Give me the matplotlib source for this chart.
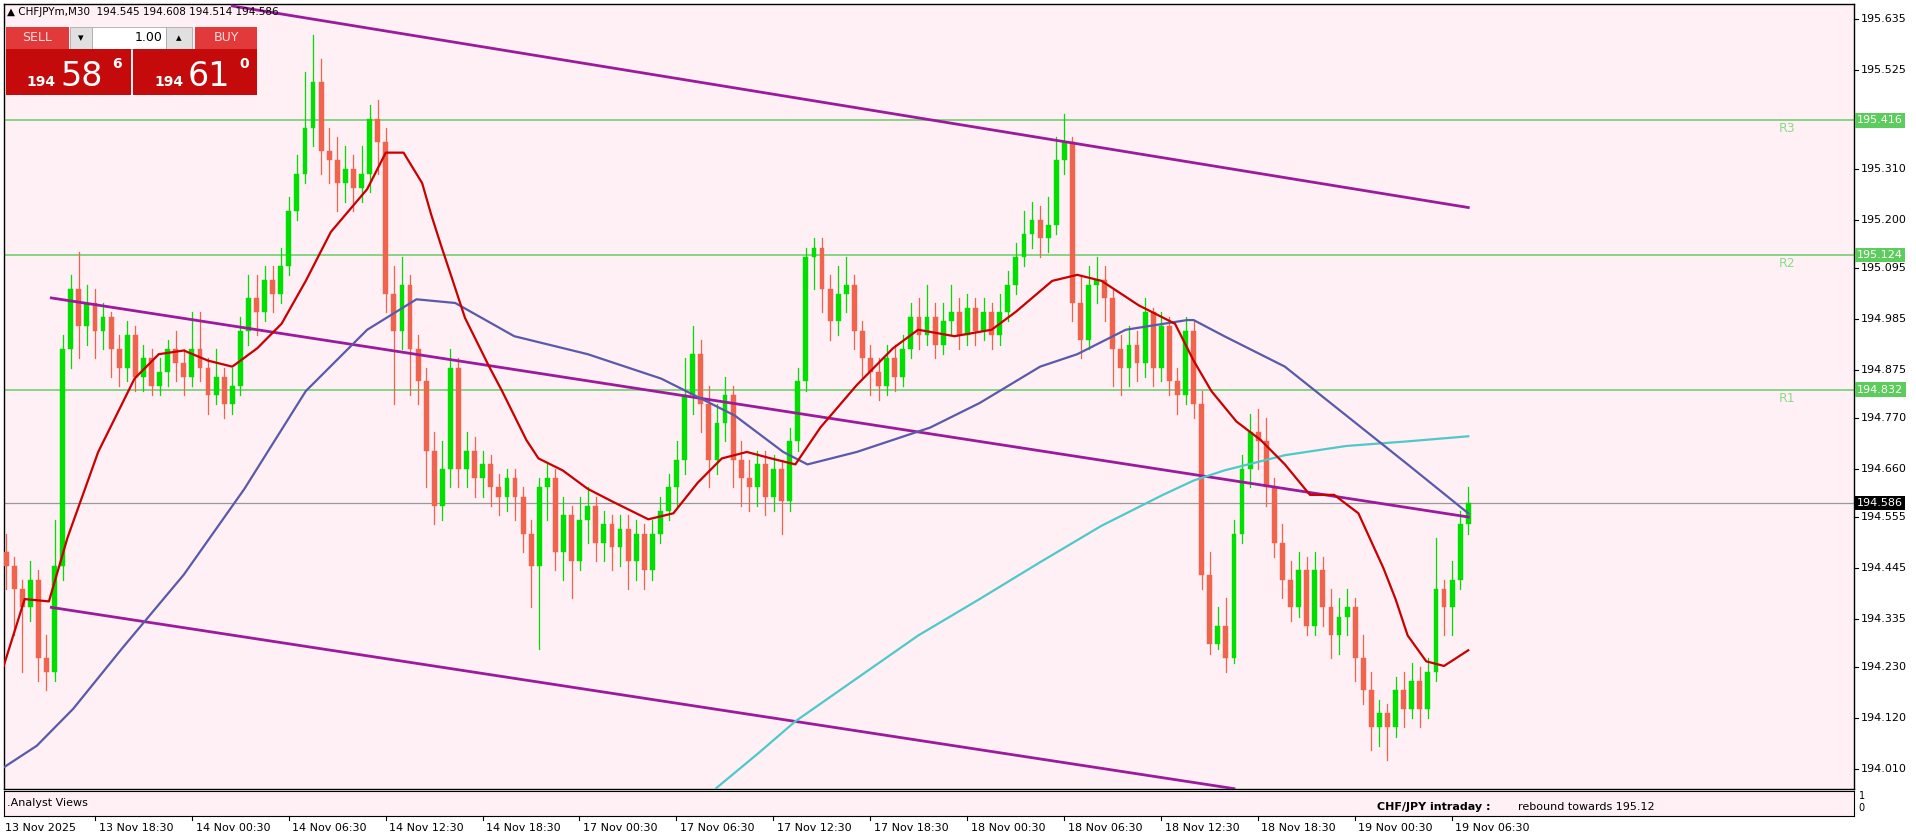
import matplotlib
matplotlib.use("Agg")
import matplotlib.pyplot as plt
from matplotlib.patches import Rectangle
import numpy as np

first_open = 194.48
closes = [194.45,194.40,194.36,194.42,194.25,194.22,194.45,194.92,195.05,194.97,
195.02,194.96,194.99,194.92,194.88,194.95,194.86,194.90,194.84,194.87,
194.92,194.89,194.86,194.92,194.88,194.82,194.86,194.80,194.84,194.96,
195.03,195.00,195.07,195.04,195.10,195.22,195.30,195.40,195.50,195.35,
195.33,195.28,195.31,195.27,195.30,195.42,195.37,195.04,194.96,195.06,
194.92,194.85,194.70,194.58,194.66,194.88,194.66,194.70,194.64,194.67,
194.62,194.60,194.64,194.60,194.52,194.45,194.62,194.64,194.48,194.56,
194.46,194.55,194.58,194.50,194.54,194.49,194.53,194.46,194.52,194.44,
194.52,194.57,194.62,194.68,194.82,194.91,194.80,194.68,194.76,194.82,
194.68,194.64,194.62,194.67,194.60,194.66,194.59,194.72,194.85,195.12,
195.14,195.05,194.98,195.04,195.06,194.96,194.90,194.87,194.84,194.90,
194.86,194.92,194.99,194.95,194.99,194.93,194.98,195.00,194.95,195.01,
194.96,195.00,194.95,195.00,195.06,195.12,195.17,195.20,195.16,195.19,
195.33,195.37,195.02,194.94,195.06,195.07,195.03,194.92,194.88,194.93,
194.89,195.00,194.88,194.97,194.85,194.82,194.96,194.80,194.43,194.28,
194.32,194.25,194.52,194.66,194.74,194.72,194.62,194.50,194.42,194.36,
194.44,194.32,194.44,194.36,194.30,194.34,194.36,194.25,194.18,194.10,
194.13,194.10,194.18,194.14,194.20,194.14,194.22,194.40,194.36,194.42,
194.54,194.586]
highs = [194.52,194.47,194.42,194.46,194.44,194.30,194.55,194.95,195.08,195.13,
195.06,195.05,195.02,195.00,194.95,194.98,194.97,194.93,194.92,194.90,
194.94,194.96,194.92,195.00,195.00,194.90,194.92,194.88,194.88,194.99,
195.08,195.08,195.10,195.10,195.14,195.25,195.34,195.52,195.60,195.55,
195.40,195.38,195.36,195.34,195.36,195.45,195.46,195.40,195.10,195.12,
195.08,194.95,194.88,194.74,194.72,194.92,194.90,194.74,194.73,194.70,
194.69,194.65,194.66,194.66,194.62,194.55,194.64,194.67,194.66,194.60,
194.58,194.60,194.62,194.60,194.57,194.56,194.56,194.56,194.55,194.54,
194.55,194.60,194.65,194.72,194.90,194.97,194.94,194.84,194.80,194.86,
194.84,194.72,194.68,194.70,194.70,194.69,194.68,194.75,194.88,195.14,
195.16,195.16,195.08,195.10,195.12,195.08,194.98,194.93,194.90,194.93,
194.93,194.95,195.02,195.03,195.06,195.02,195.02,195.06,195.03,195.04,
195.03,195.03,195.02,195.04,195.09,195.15,195.22,195.24,195.23,195.25,
195.38,195.43,195.38,195.08,195.10,195.12,195.10,195.05,194.95,194.97,
194.96,195.03,195.01,195.00,194.99,194.88,194.99,194.98,194.83,194.48,
194.36,194.38,194.55,194.69,194.78,194.79,194.77,194.64,194.54,194.46,
194.48,194.47,194.48,194.47,194.40,194.38,194.40,194.38,194.30,194.22,
194.16,194.15,194.21,194.22,194.24,194.23,194.25,194.51,194.42,194.46,
194.57,194.62]
lows = [194.40,194.30,194.22,194.33,194.20,194.18,194.20,194.42,194.88,194.90,
194.93,194.90,194.92,194.86,194.84,194.85,194.83,194.83,194.82,194.82,
194.84,194.85,194.82,194.84,194.85,194.78,194.80,194.77,194.78,194.82,
194.93,194.95,194.98,195.00,195.02,195.08,195.20,195.28,195.36,195.30,
195.28,195.22,195.24,195.22,195.24,195.26,195.30,195.00,194.80,194.92,
194.82,194.80,194.62,194.54,194.55,194.62,194.62,194.62,194.60,194.60,
194.58,194.56,194.57,194.55,194.48,194.36,194.27,194.55,194.44,194.42,
194.38,194.44,194.50,194.46,194.46,194.44,194.45,194.40,194.42,194.40,
194.42,194.50,194.55,194.58,194.65,194.78,194.74,194.62,194.65,194.72,
194.62,194.58,194.57,194.58,194.56,194.57,194.52,194.57,194.70,194.83,
195.05,195.00,194.94,194.95,195.00,194.92,194.86,194.82,194.81,194.82,
194.83,194.84,194.90,194.92,194.93,194.90,194.91,194.95,194.92,194.93,
194.93,194.94,194.92,194.93,194.98,195.04,195.10,195.14,195.12,195.13,
195.17,195.30,194.98,194.90,194.92,195.02,194.98,194.84,194.82,194.84,
194.85,194.86,194.84,194.85,194.82,194.78,194.80,194.77,194.40,194.26,
194.27,194.22,194.24,194.50,194.62,194.66,194.58,194.47,194.38,194.33,
194.34,194.30,194.30,194.32,194.25,194.26,194.30,194.20,194.15,194.05,
194.06,194.03,194.08,194.10,194.12,194.10,194.12,194.20,194.30,194.30,
194.40,194.52]

# moving averages (sampled: bar index, value)
ma_fast_bar = [-0.3,2.3,5.3,7.6,11.4,15.9,18.9,22,25,28,31.1,34.1,37.1,40.2,44.7,47,49.2,51.5,52.6,53.8,55.3,56.8,58.3,59.8,61.4,62.9,64.4,65.9,68.9,72,75,79.5,82.6,85.6,88.6,91.7,94.7,97.7,100.8,105.3,109.8,112.9,117.4,122,125,129.5,132.6,135.6,140.2,144.7,147,149.2,152.3,155.3,158.3,161.4,164.4,167.4,170.5,172,173.5,175.8,178,181]
ma_fast_val = [194.233,194.378,194.373,194.511,194.697,194.856,194.909,194.917,194.895,194.882,194.922,194.975,195.068,195.174,195.267,195.346,195.346,195.280,195.213,195.147,195.068,194.988,194.935,194.882,194.829,194.776,194.723,194.683,194.657,194.617,194.590,194.551,194.564,194.630,194.683,194.697,194.683,194.670,194.750,194.842,194.922,194.962,194.948,194.962,195.001,195.068,195.081,195.068,195.015,194.975,194.895,194.829,194.763,194.723,194.670,194.604,194.604,194.564,194.445,194.378,194.299,194.243,194.233,194.267]
ma_mid_bar = [-0.3,3.8,8.3,14.4,22,29.5,37.1,44.7,50.8,55.6,62.9,72,81.1,90.2,96.2,99.2,105.3,114.4,120.5,128,132.6,138.6,146.2,147,150.8,158.3,165.9,173.5,181]
ma_mid_val = [194.013,194.060,194.140,194.272,194.431,194.617,194.829,194.962,195.028,195.020,194.948,194.909,194.856,194.776,194.697,194.670,194.697,194.750,194.803,194.882,194.909,194.962,194.983,194.983,194.948,194.882,194.776,194.670,194.564]
ma_slow_bar = [87.9,93.2,97.7,105.3,112.9,120.5,128,135.6,143.2,147,150.8,158.3,165.9,173.5,181]
ma_slow_val = [193.968,194.045,194.113,194.206,194.299,194.378,194.458,194.537,194.604,194.635,194.657,194.690,194.710,194.720,194.731]

# trend channel lines (bar, price)
trend_upper = ([28, 181], [195.664, 195.227])
trend_mid = ([5.6, 181], [195.031, 194.556])
trend_lower = ([5.6, 152], [194.360, 193.967])

levels = [195.416, 195.124, 194.832]
level_names = ["R3", "R2", "R1"]
last_price = 194.586
price_ticks = [195.635,195.525,195.310,195.200,195.095,194.985,194.875,194.770,194.660,194.555,194.445,194.335,194.230,194.120,194.010]
time_tick_bars = [11,23,35,47,59,71,83,95,107,119,131,143,155,167,179]
time_tick_labels = ["13 Nov 18:30","14 Nov 00:30","14 Nov 06:30","14 Nov 12:30","14 Nov 18:30",
                    "17 Nov 00:30","17 Nov 06:30","17 Nov 12:30","17 Nov 18:30","18 Nov 00:30",
                    "18 Nov 06:30","18 Nov 12:30","18 Nov 18:30","19 Nov 00:30","19 Nov 06:30"]

W, H = 1566.0, 687.0
def fx(x): return x / W
def fy(y): return 1 - y / H

BG = "#fff0f5"
BULL = "#00e000"
BEAR = "#f0644e"
fig = plt.figure(figsize=(19.16, 8.4), dpi=100)
fig.patch.set_facecolor("white")
ax = fig.add_axes([fx(3), fy(645), fx(1515) - fx(3), fy(3) - fy(645)])
ax.set_facecolor(BG)
ymin, ymax = 193.967, 195.669
ax.set_ylim(ymin, ymax)
ax.set_xlim(-0.3, 228.7)

opens = [first_open] + closes[:-1]
for i, (o, c, h, l) in enumerate(zip(opens, closes, highs, lows)):
    col = BULL if c >= o else BEAR
    ax.plot([i, i], [l, h], color=col, lw=0.9, zorder=3)
    ax.add_patch(Rectangle((i - 0.3, min(o, c)), 0.6, max(abs(c - o), 0.004),
                           facecolor=col, edgecolor=col, lw=0.3, zorder=4))

for lv, nm in zip(levels, level_names):
    ax.axhline(lv, color="#66cc66", lw=1.1, zorder=2)
    ax.text(221.5, lv - 0.004, nm, color="#88dd88", fontsize=9, ha="right", va="top")
ax.axhline(last_price, color="#999999", lw=0.9, zorder=2)

for tl in (trend_upper, trend_mid, trend_lower):
    ax.plot(tl[0], tl[1], color="#9c1b9c", lw=2, zorder=5)
ax.plot(ma_slow_bar, ma_slow_val, color="#4ec9c9", lw=1.6, zorder=5)
ax.plot(ma_mid_bar, ma_mid_val, color="#5a5aaa", lw=1.6, zorder=5)
ax.plot(ma_fast_bar, ma_fast_val, color="#c80000", lw=1.6, zorder=6)

ax.set_xticks([]); ax.set_yticks([])
for s in ax.spines.values():
    s.set_color("black"); s.set_linewidth(1)

def py(p):
    b, t = fy(645), fy(3)
    return b + (p - ymin) / (ymax - ymin) * (t - b)
for p in price_ticks:
    fig.text(fx(1521), py(p), f"{p:.3f}", fontsize=8, va="center", ha="left")
    fig.add_artist(plt.Line2D([fx(1515), fx(1519)], [py(p)] * 2, color="black", lw=0.8))
for lv in levels:
    fig.text(fx(1518), py(lv), f"{lv:.3f}", fontsize=8, va="center", ha="left", color="white",
             bbox=dict(boxstyle="square,pad=0.2", fc="#5ccc5c", ec="none"))
fig.text(fx(1518), py(last_price), f"{last_price:.3f}", fontsize=8, va="center", ha="left", color="white",
         bbox=dict(boxstyle="square,pad=0.2", fc="black", ec="none"))

sub = fig.add_axes([fx(3), fy(667), fx(1515) - fx(3), fy(647) - fy(667)])
sub.set_facecolor(BG); sub.set_xticks([]); sub.set_yticks([])
sub.text(0.002, 0.5, ".Analyst Views", fontsize=8, va="center", transform=sub.transAxes)
sub.text(fx(1125) / (fx(1515)), 0.15, "CHF/JPY intraday :", fontsize=8, fontweight="bold",
         va="bottom", transform=sub.transAxes)
sub.text(fx(1240) / (fx(1515)), 0.15, "rebound towards 195.12", fontsize=8,
         va="bottom", transform=sub.transAxes)
fig.text(fx(1519), fy(651), "1", fontsize=7, va="center")
fig.text(fx(1519), fy(661), "0", fontsize=7, va="center")

def bx(b): return fx(5 + 6.6 * b)
fig.text(fx(4), fy(677), "13 Nov 2025", fontsize=8, va="center")
for b, lab in zip(time_tick_bars, time_tick_labels):
    fig.text(bx(b) + fx(3), fy(677), lab, fontsize=8, va="center")
    fig.add_artist(plt.Line2D([bx(b)] * 2, [fy(667), fy(671)], color="black", lw=0.8))

fig.text(fx(6), fy(10), "▲ CHFJPYm,M30  194.545 194.608 194.514 194.586", fontsize=7.5, va="center")
def box(x0, y0, x1, y1, fc, ec="none"):
    fig.add_artist(Rectangle((fx(x0), fy(y1)), fx(x1) - fx(x0), fy(y0) - fy(y1),
                             transform=fig.transFigure, fc=fc, ec=ec, lw=0.6))
box(5, 22, 56, 40, "#e23a3a")
box(57, 22, 75, 40, "#e0e0e0", "#aaaaaa")
box(75, 22, 136, 40, "white", "#aaaaaa")
box(136, 22, 157, 40, "#e0e0e0", "#aaaaaa")
box(159, 22, 210, 40, "#e23a3a")
box(5, 40, 107, 78, "#c40a0a")
box(109, 40, 210, 78, "#c40a0a")
fig.text(fx(30), fy(31), "SELL", color="#ffdddd", fontsize=9, ha="center", va="center")
fig.text(fx(185), fy(31), "BUY", color="#ffdddd", fontsize=9, ha="center", va="center")
fig.text(fx(66), fy(31), "▾", fontsize=8, ha="center", va="center")
fig.text(fx(146), fy(31), "▴", fontsize=8, ha="center", va="center")
fig.text(fx(133), fy(31), "1.00", fontsize=9, ha="right", va="center")
for x0, big, sup in ((22, "58", "6"), (126, "61", "0")):
    fig.text(fx(x0), fy(70), "194", color="white", fontsize=10, fontweight="bold", va="baseline")
    fig.text(fx(x0 + 27), fy(70), big, color="white", fontsize=24, va="baseline")
    fig.text(fx(x0 + 70), fy(52), sup, color="white", fontsize=10, fontweight="bold", va="center")

fig.savefig("out.png", dpi=100, facecolor="white")
